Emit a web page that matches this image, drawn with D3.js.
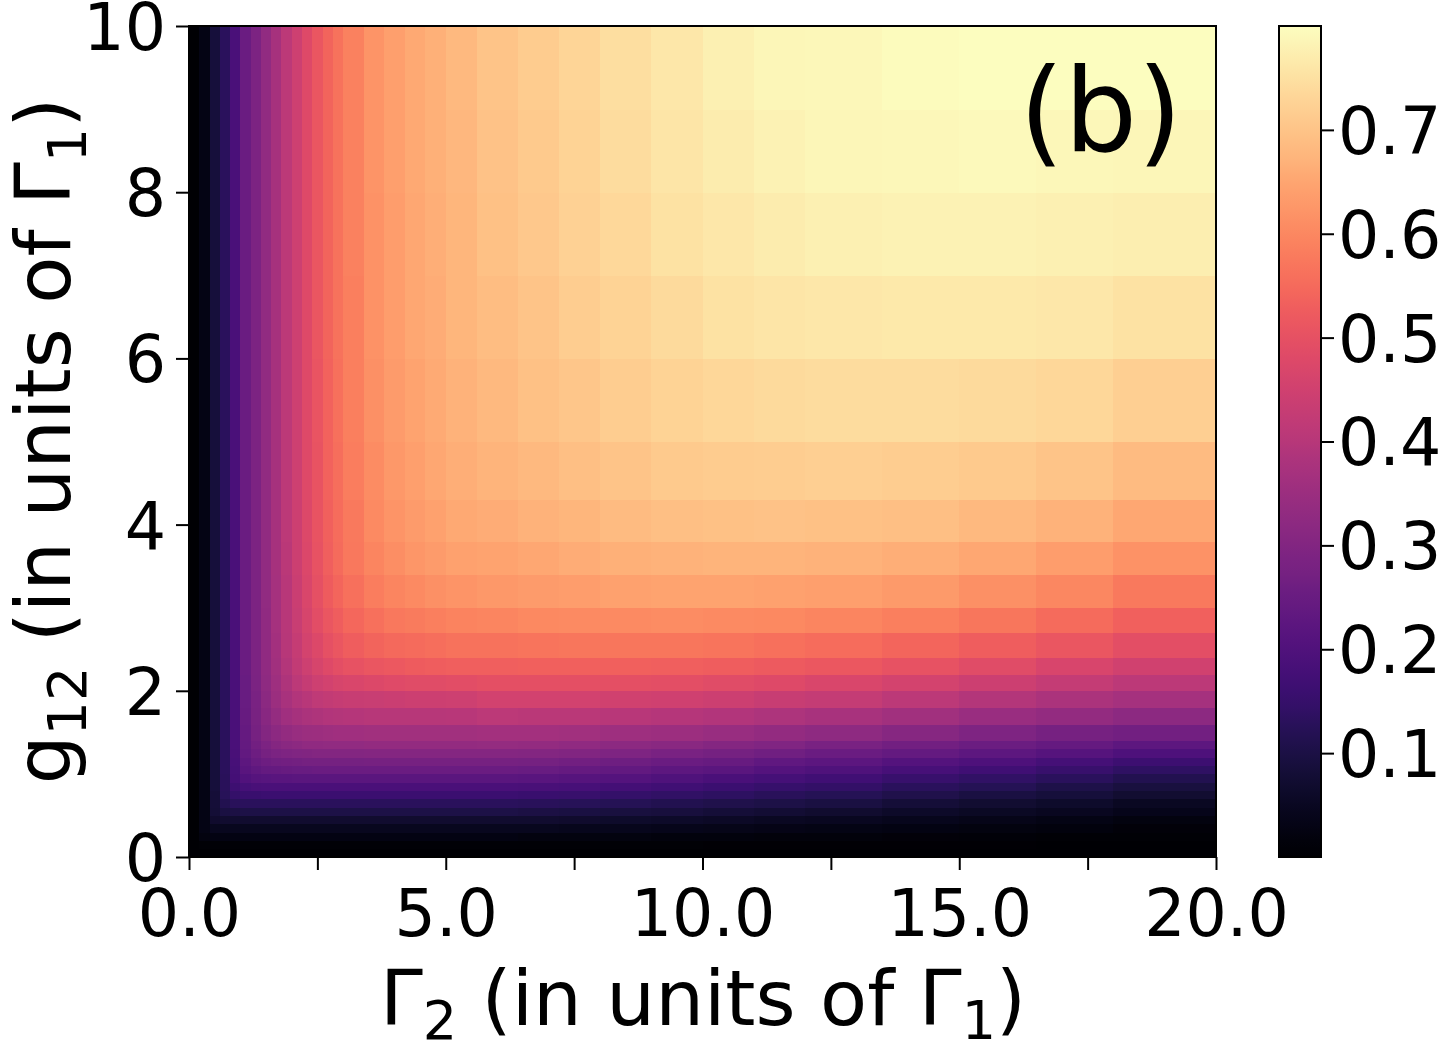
<!DOCTYPE html>
<html>
<head>
<meta charset="utf-8">
<script src="https://cdn.jsdelivr.net/npm/d3@7"></script>
<style>
  body { margin: 0; background: #fff; }
  svg text { font-family: "DejaVu Sans", sans-serif; fill: #000; }
</style>
</head>
<body>
<div id="chart"></div>
<script>
/* DATA */
// left edge of every column of cells (Gamma_2), last one runs to 20
const gamma2Cols = [0, 0.2, 0.4, 0.6, 0.8, 1.0, 1.2, 1.4, 1.6, 1.8, 2.0, 2.2, 2.4, 2.6, 2.8,
  3.0, 3.4, 3.8, 4.2, 4.6, 5.0, 5.6, 6.4, 7.2, 8.0, 9.0, 10.0, 11.0, 12.0, 13.5, 15.0, 16.5, 18.0];
// bottom edge of every row of cells (g_12), last one runs to 10
const g12Rows = [0, 0.1, 0.2, 0.3, 0.4, 0.5, 0.6, 0.7, 0.8, 0.9, 1.0, 1.1, 1.2, 1.3, 1.4,
  1.6, 1.8, 2.0, 2.2, 2.4, 2.7, 3.0, 3.4, 3.8, 4.3, 5.0, 6.0, 7.0, 8.0, 9.0];

// one row per g12Rows entry, one value per gamma2Cols entry
const heatValues = [
  [0,0,0,0,0,0,0,0,0,0,0,0,0,0,0,0,0,0,0,0,0, 0,0,0,0,0,0,0,0,0,0,0,0],
  [0,0.008,0.008,0.008,0.008,0.008,0.008,0.008,0.008,0.008,0.008,0.008,0.008,0.008,0.008,0.008,0.008,0.008,0.008,0.008,0.008, 0.008,0.008,0.008,0.007,0.007,0.006,0.006,0.005,0.004,0.004,0.003,0.002],
  [0,0.023,0.025,0.025,0.025,0.025,0.025,0.025,0.025,0.025,0.025,0.025,0.025,0.025,0.025,0.025,0.025,0.025,0.025,0.025,0.025, 0.025,0.024,0.024,0.023,0.021,0.02,0.018,0.016,0.014,0.012,0.009,0.007],
  [0,0.029,0.045,0.045,0.045,0.045,0.045,0.045,0.045,0.045,0.045,0.045,0.045,0.045,0.045,0.045,0.045,0.045,0.045,0.045,0.045, 0.045,0.044,0.043,0.041,0.039,0.036,0.033,0.031,0.026,0.023,0.019,0.014],
  [0,0.03,0.066,0.069,0.07,0.07,0.07,0.07,0.07,0.07,0.07,0.07,0.07,0.07,0.07,0.07,0.07,0.07,0.07,0.07,0.07, 0.07,0.069,0.067,0.064,0.061,0.057,0.053,0.048,0.042,0.036,0.031,0.024],
  [0,0.03,0.079,0.095,0.099,0.1,0.1,0.1,0.1,0.1,0.1,0.1,0.1,0.1,0.1,0.1,0.1,0.1,0.1,0.1,0.1, 0.1,0.098,0.095,0.092,0.088,0.082,0.077,0.071,0.062,0.055,0.047,0.038],
  [0,0.03,0.083,0.113,0.126,0.129,0.13,0.13,0.13,0.13,0.13,0.13,0.13,0.13,0.13,0.13,0.13,0.13,0.13,0.13,0.13, 0.13,0.128,0.124,0.12,0.115,0.108,0.101,0.094,0.084,0.074,0.064,0.053],
  [0,0.03,0.084,0.122,0.149,0.157,0.158,0.16,0.16,0.16,0.16,0.16,0.16,0.16,0.16,0.16,0.16,0.16,0.16,0.16,0.16, 0.16,0.157,0.154,0.149,0.143,0.135,0.127,0.119,0.107,0.096,0.085,0.072],
  [0,0.03,0.085,0.126,0.165,0.181,0.186,0.188,0.189,0.19,0.19,0.19,0.19,0.19,0.19,0.19,0.19,0.19,0.19,0.19,0.19, 0.19,0.187,0.183,0.178,0.171,0.162,0.153,0.144,0.131,0.119,0.106,0.092],
  [0,0.03,0.085,0.128,0.176,0.202,0.21,0.215,0.217,0.218,0.219,0.22,0.22,0.22,0.22,0.22,0.22,0.22,0.22,0.22,0.22, 0.22,0.217,0.212,0.207,0.199,0.19,0.18,0.17,0.156,0.143,0.13,0.114],
  [0,0.03,0.085,0.129,0.181,0.218,0.231,0.239,0.243,0.246,0.247,0.248,0.25,0.25,0.25,0.25,0.25,0.25,0.25,0.25,0.25, 0.25,0.247,0.242,0.236,0.228,0.219,0.209,0.198,0.183,0.17,0.156,0.14],
  [0,0.03,0.085,0.129,0.184,0.227,0.245,0.257,0.264,0.268,0.27,0.272,0.273,0.273,0.274,0.274,0.275,0.275,0.275,0.275,0.275, 0.275,0.272,0.267,0.261,0.253,0.244,0.234,0.223,0.208,0.195,0.181,0.165],
  [0,0.03,0.085,0.13,0.187,0.235,0.258,0.275,0.286,0.293,0.296,0.299,0.3,0.302,0.302,0.303,0.304,0.304,0.305,0.305,0.305, 0.305,0.302,0.297,0.291,0.283,0.274,0.264,0.253,0.238,0.225,0.211,0.195],
  [0,0.03,0.085,0.13,0.188,0.24,0.268,0.289,0.304,0.315,0.321,0.325,0.327,0.329,0.33,0.331,0.332,0.332,0.333,0.333,0.334, 0.335,0.332,0.327,0.321,0.313,0.304,0.294,0.283,0.268,0.255,0.241,0.225],
  [0,0.03,0.085,0.13,0.189,0.243,0.275,0.3,0.32,0.334,0.343,0.349,0.353,0.356,0.357,0.359,0.36,0.361,0.361,0.362,0.362, 0.365,0.363,0.36,0.356,0.35,0.342,0.333,0.322,0.307,0.292,0.278,0.266],
  [0,0.03,0.085,0.13,0.19,0.246,0.28,0.311,0.337,0.357,0.37,0.38,0.387,0.392,0.395,0.398,0.401,0.402,0.403,0.403,0.404, 0.41,0.409,0.407,0.404,0.399,0.392,0.384,0.374,0.36,0.345,0.332,0.32],
  [0,0.03,0.085,0.13,0.19,0.248,0.284,0.318,0.348,0.373,0.391,0.406,0.416,0.424,0.429,0.434,0.437,0.44,0.441,0.443,0.444, 0.455,0.455,0.454,0.452,0.448,0.442,0.434,0.425,0.411,0.396,0.381,0.368],
  [0,0.03,0.085,0.13,0.19,0.249,0.287,0.323,0.356,0.387,0.41,0.429,0.444,0.455,0.464,0.471,0.478,0.482,0.485,0.487,0.489, 0.495,0.496,0.496,0.495,0.492,0.487,0.48,0.471,0.458,0.443,0.427,0.412],
  [0,0.03,0.085,0.13,0.19,0.25,0.288,0.326,0.361,0.395,0.422,0.446,0.464,0.48,0.492,0.502,0.512,0.518,0.522,0.525,0.529, 0.53,0.532,0.533,0.533,0.531,0.527,0.521,0.513,0.5,0.485,0.468,0.452],
  [0,0.03,0.085,0.13,0.19,0.25,0.289,0.327,0.365,0.401,0.429,0.457,0.478,0.497,0.512,0.526,0.54,0.547,0.553,0.557,0.563, 0.565,0.568,0.57,0.571,0.57,0.567,0.562,0.555,0.543,0.528,0.51,0.492],
  [0,0.03,0.085,0.13,0.19,0.25,0.29,0.328,0.366,0.404,0.435,0.465,0.489,0.511,0.528,0.544,0.562,0.572,0.58,0.586,0.592, 0.595,0.6,0.604,0.606,0.607,0.606,0.602,0.596,0.586,0.57,0.553,0.533],
  [0,0.03,0.085,0.13,0.19,0.25,0.29,0.33,0.368,0.406,0.439,0.471,0.497,0.522,0.542,0.562,0.583,0.596,0.605,0.613,0.621, 0.625,0.632,0.637,0.641,0.644,0.645,0.643,0.638,0.63,0.615,0.598,0.575],
  [0,0.03,0.085,0.13,0.19,0.25,0.29,0.33,0.37,0.408,0.441,0.474,0.502,0.529,0.551,0.572,0.596,0.611,0.622,0.632,0.642, 0.645,0.653,0.66,0.666,0.671,0.673,0.673,0.67,0.664,0.652,0.637,0.618],
  [0,0.03,0.085,0.13,0.19,0.25,0.29,0.33,0.37,0.41,0.443,0.477,0.505,0.532,0.556,0.578,0.604,0.621,0.633,0.643,0.655, 0.66,0.67,0.678,0.686,0.692,0.696,0.697,0.696,0.692,0.684,0.67,0.652],
  [0,0.03,0.085,0.13,0.19,0.25,0.29,0.33,0.37,0.41,0.445,0.479,0.506,0.535,0.559,0.582,0.609,0.627,0.64,0.652,0.664, 0.672,0.683,0.693,0.702,0.71,0.715,0.718,0.719,0.717,0.71,0.7,0.685],
  [0,0.03,0.085,0.13,0.19,0.25,0.29,0.33,0.37,0.41,0.445,0.48,0.508,0.537,0.561,0.585,0.613,0.632,0.646,0.657,0.67, 0.683,0.695,0.706,0.717,0.726,0.734,0.739,0.742,0.743,0.74,0.732,0.72],
  [0,0.03,0.085,0.13,0.19,0.25,0.29,0.33,0.37,0.41,0.445,0.48,0.51,0.538,0.563,0.587,0.616,0.636,0.65,0.662,0.675, 0.69,0.703,0.716,0.728,0.74,0.75,0.757,0.762,0.765,0.764,0.76,0.752],
  [0,0.03,0.085,0.13,0.19,0.25,0.29,0.33,0.37,0.41,0.445,0.48,0.51,0.54,0.564,0.588,0.618,0.637,0.652,0.665,0.678, 0.695,0.708,0.722,0.736,0.75,0.762,0.77,0.776,0.78,0.781,0.778,0.772],
  [0,0.03,0.085,0.13,0.19,0.25,0.29,0.33,0.37,0.41,0.445,0.48,0.51,0.54,0.565,0.589,0.619,0.639,0.654,0.666,0.68, 0.698,0.712,0.727,0.742,0.757,0.77,0.78,0.786,0.79,0.792,0.79,0.787],
  [0,0.03,0.085,0.13,0.19,0.25,0.29,0.33,0.37,0.41,0.445,0.48,0.51,0.54,0.565,0.59,0.62,0.64,0.655,0.668,0.682, 0.7,0.715,0.73,0.745,0.76,0.775,0.785,0.79,0.795,0.798,0.798,0.797]
];

const xTickValues = [0, 2.5, 5, 7.5, 10, 12.5, 15, 17.5, 20];
const yTickValues = [0, 2, 4, 6, 8, 10];
const cbarTickValues = [0.1, 0.2, 0.3, 0.4, 0.5, 0.6, 0.7];
const colorDomain = [0, 0.8];

/* LAYOUT */
const width = 1443, height = 1050;
const plot = { left: 189, right: 1216, top: 26, bottom: 857 };
const cbar = { left: 1279, right: 1321 };
const tickFont = 65;
const titleFont = 77, subFont = 54;

const svg = d3.select("#chart").append("svg")
  .attr("width", width)
  .attr("height", height);

// + SCALES
const xScale = d3.scaleLinear().domain([0, 20]).range([plot.left, plot.right]);
const yScale = d3.scaleLinear().domain([0, 10]).range([plot.bottom, plot.top]);
const colorScale = d3.scaleSequential(d3.interpolateMagma).domain(colorDomain);

// + HEATMAP CELLS
const cells = [];
heatValues.forEach((row, i) => {
  row.forEach((v, j) => {
    cells.push({
      x0: gamma2Cols[j],
      x1: j + 1 < gamma2Cols.length ? gamma2Cols[j + 1] : 20,
      y0: g12Rows[i],
      y1: i + 1 < g12Rows.length ? g12Rows[i + 1] : 10,
      v: v
    });
  });
});

svg.append("g")
  .attr("class", "cells")
  .selectAll("rect")
  .data(cells)
  .join("rect")
  .attr("x", d => xScale(d.x0))
  .attr("y", d => yScale(d.y1))
  .attr("width", d => xScale(d.x1) - xScale(d.x0) + 0.5)
  .attr("height", d => yScale(d.y0) - yScale(d.y1) + 0.5)
  .attr("fill", d => colorScale(d.v))
  .attr("shape-rendering", "crispEdges");

// + AXES
const xAxis = d3.axisBottom(xScale)
  .tickValues(xTickValues)
  .tickSize(13)
  .tickPadding(20)
  .tickFormat(d => d % 5 === 0 ? d3.format(".1f")(d) : "");

const yAxis = d3.axisLeft(yScale)
  .tickValues(yTickValues)
  .tickSize(13)
  .tickPadding(10)
  .tickFormat(d3.format("d"));

const xAxisGroup = svg.append("g")
  .attr("transform", `translate(0,${plot.bottom})`)
  .call(xAxis);

const yAxisGroup = svg.append("g")
  .attr("transform", `translate(${plot.left},0)`)
  .call(yAxis);

[xAxisGroup, yAxisGroup].forEach(g => {
  g.select(".domain").remove();
  g.selectAll(".tick line").attr("stroke", "#000").attr("stroke-width", 2);
  g.selectAll(".tick text")
    .attr("font-size", tickFont)
    .attr("font-family", "DejaVu Sans")
    .attr("fill", "#000");
});
yAxisGroup.selectAll(".tick text").attr("dy", "0.36em");

// frame
svg.append("rect")
  .attr("x", plot.left)
  .attr("y", plot.top)
  .attr("width", plot.right - plot.left)
  .attr("height", plot.bottom - plot.top)
  .attr("fill", "none")
  .attr("stroke", "#000")
  .attr("stroke-width", 2);

// + PANEL LABEL
svg.append("text")
  .attr("x", 1182)
  .attr("y", 151)
  .attr("text-anchor", "end")
  .attr("font-size", 115)
  .text("(b)");

// + AXIS TITLES
const xTitle = svg.append("text")
  .attr("x", 703)
  .attr("y", 1025)
  .attr("text-anchor", "middle")
  .attr("font-size", titleFont);
xTitle.append("tspan").text("Γ");
xTitle.append("tspan").attr("font-size", subFont).attr("dy", 14).text("2");
xTitle.append("tspan").attr("dy", -14).text(" (in units of Γ");
xTitle.append("tspan").attr("font-size", subFont).attr("dy", 14).text("1");
xTitle.append("tspan").attr("dy", -14).text(")");

const yTitle = svg.append("text")
  .attr("transform", `translate(70,441) rotate(-90)`)
  .attr("text-anchor", "middle")
  .attr("font-size", titleFont);
yTitle.append("tspan").text("g");
yTitle.append("tspan").attr("font-size", subFont).attr("dy", 16).text("12");
yTitle.append("tspan").attr("dy", -16).text(" (in units of Γ");
yTitle.append("tspan").attr("font-size", subFont).attr("dy", 16).text("1");
yTitle.append("tspan").attr("dy", -16).text(")");

// + COLORBAR
const cbScale = d3.scaleLinear().domain(colorDomain).range([plot.bottom, plot.top]);

const grad = svg.append("defs").append("linearGradient")
  .attr("id", "magmaGrad")
  .attr("x1", 0).attr("y1", 1).attr("x2", 0).attr("y2", 0);
grad.selectAll("stop")
  .data(d3.range(0, 1.0001, 0.02))
  .join("stop")
  .attr("offset", d => d)
  .attr("stop-color", d => d3.interpolateMagma(d));

svg.append("rect")
  .attr("x", cbar.left)
  .attr("y", plot.top)
  .attr("width", cbar.right - cbar.left)
  .attr("height", plot.bottom - plot.top)
  .attr("fill", "url(#magmaGrad)")
  .attr("stroke", "#000")
  .attr("stroke-width", 2);

const cbAxis = d3.axisRight(cbScale)
  .tickValues(cbarTickValues)
  .tickSize(13)
  .tickPadding(4)
  .tickFormat(d3.format(".1f"));

const cbAxisGroup = svg.append("g")
  .attr("transform", `translate(${cbar.right},0)`)
  .call(cbAxis);
cbAxisGroup.select(".domain").remove();
cbAxisGroup.selectAll(".tick line").attr("stroke", "#000").attr("stroke-width", 2);
cbAxisGroup.selectAll(".tick text")
  .attr("font-size", tickFont)
  .attr("font-family", "DejaVu Sans")
  .attr("fill", "#000")
  .attr("dy", "0.36em");
</script>
</body>
</html>
